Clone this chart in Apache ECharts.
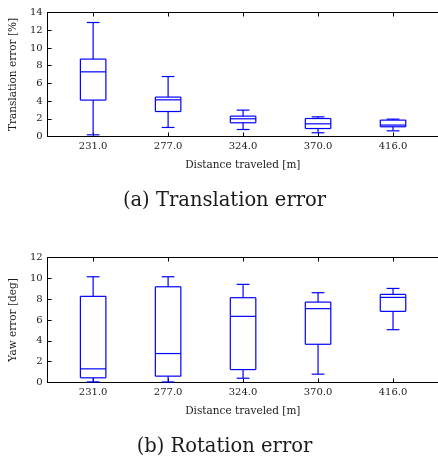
<!DOCTYPE html>
<html>
<head>
<meta charset="utf-8">
<script src="https://cdn.jsdelivr.net/npm/echarts@6/dist/echarts.min.js"></script>
<style>
html,body{margin:0;padding:0;background:#fff;}
#chart{width:438px;height:458px;}
</style>
</head>
<body>
<div id="chart"></div>
<script>
// ---- data ----
const categories = ['231.0', '277.0', '324.0', '370.0', '416.0'];
// Translation error [%]
const transLow    = [0.19, 1.02, 0.79, 0.42, 0.64];
const transQ1     = [4.11, 2.82, 1.55, 0.90, 1.10];
const transMedian = [7.30, 4.14, 2.00, 1.43, 1.29];
const transQ3     = [8.74, 4.45, 2.30, 2.03, 1.85];
const transHigh   = [12.87, 6.77, 2.98, 2.22, 1.96];
// Yaw error [deg]
const yawLow    = [0.06, 0.05, 0.41, 0.80, 5.07];
const yawQ1     = [0.45, 0.61, 1.24, 3.67, 6.83];
const yawMedian = [1.31, 2.78, 6.35, 7.09, 8.17];
const yawQ3     = [8.27, 9.19, 8.14, 7.72, 8.46];
const yawHigh   = [10.15, 10.15, 9.42, 8.62, 9.03];
const transTicks = [0, 2, 4, 6, 8, 10, 12, 14];
const yawTicks = [0, 2, 4, 6, 8, 10, 12];

function buildRows(low, q1, med, q3, high) {
  return categories.map((c, i) => [i, low[i], q1[i], med[i], q3[i], high[i]]);
}

const BLUE = '#0000ff';
const FONT = 'DejaVu Serif';
const TEXT = '#1a1a1a';
const BOX_W = 0.34; // in category units

function renderBox(params, api) {
  const x = api.value(0);
  const low = api.coord([x, api.value(1)]);
  const q1 = api.coord([x, api.value(2)]);
  const med = api.coord([x, api.value(3)]);
  const q3 = api.coord([x, api.value(4)]);
  const high = api.coord([x, api.value(5)]);
  const bw = api.size([BOX_W, 0])[0];
  const cx = low[0];
  const l = cx - bw / 2, r = cx + bw / 2;
  const cl = cx - bw / 4, cr = cx + bw / 4;
  const mk = () => ({ stroke: BLUE, lineWidth: 1.2, fill: 'none' });
  const line = (x1, yA, x2, yB) => ({ type: 'line', shape: { x1: x1, y1: yA, x2: x2, y2: yB }, style: mk() });
  return {
    type: 'group',
    children: [
      line(l, q3[1], r, q3[1]),
      line(l, q1[1], r, q1[1]),
      line(l, q3[1], l, q1[1]),
      line(r, q3[1], r, q1[1]),
      line(l, med[1], r, med[1]),
      line(cx, q3[1], cx, high[1]),
      line(cx, q1[1], cx, low[1]),
      line(cl, high[1], cr, high[1]),
      line(cl, low[1], cr, low[1])
    ]
  };
}

const X_MIN = -0.607, X_MAX = 4.6;
const GRID_LEFT = 43.5, GRID_W = 415.3;

function xAxes(gridIndex) {
  const idx = [0, 1, 2, 3, 4];
  return [
    {
      type: 'value', gridIndex: gridIndex, position: 'bottom', min: X_MIN, max: X_MAX,
      axisLine: { show: true, onZero: false, lineStyle: { color: '#000', width: 1 } },
      axisTick: { show: true, inside: true, length: 4, customValues: idx, lineStyle: { color: '#000' } },
      axisLabel: {
        show: true, customValues: idx, margin: 5,
        formatter: v => categories[Math.round(v)],
        fontFamily: FONT, fontSize: 10, color: TEXT
      },
      splitLine: { show: false },
      name: 'Distance traveled [m]', nameLocation: 'middle', nameGap: 23,
      nameTextStyle: { fontFamily: FONT, fontSize: 10.5, color: TEXT }
    },
    {
      type: 'value', gridIndex: gridIndex, position: 'top', min: X_MIN, max: X_MAX,
      axisLine: { show: true, onZero: false, lineStyle: { color: '#000', width: 1 } },
      axisTick: { show: true, inside: true, length: 4, customValues: idx, lineStyle: { color: '#000' } },
      axisLabel: { show: false },
      splitLine: { show: false }
    }
  ];
}

function yAxis(gridIndex, max, name, ticks) {
  return {
    type: 'value', gridIndex: gridIndex, position: 'left', min: 0, max: max, interval: ticks[1] - ticks[0],
    axisLine: { show: true, onZero: false, lineStyle: { color: '#000', width: 1 } },
    axisTick: { show: true, inside: true, length: 4, lineStyle: { color: '#000' } },
    axisLabel: { margin: 5, fontFamily: FONT, fontSize: 10, color: TEXT },
    splitLine: { show: false },
    name: name, nameLocation: 'middle', nameGap: 24,
    nameTextStyle: { fontFamily: FONT, fontSize: 10.5, color: TEXT }
  };
}

const chart = echarts.init(document.getElementById('chart'), null, { renderer: 'canvas' });
chart.setOption({
  animation: false,
  backgroundColor: '#fff',
  grid: [
    { left: GRID_LEFT, top: 12.5, width: GRID_W, height: 124 },
    { left: GRID_LEFT, top: 257.5, width: GRID_W, height: 125 }
  ],
  xAxis: xAxes(0).concat(xAxes(1)),
  yAxis: [
    yAxis(0, 14, 'Translation error [%]', transTicks),
    yAxis(1, 12, 'Yaw error [deg]', yawTicks)
  ],
  graphic: [
    { type: 'text', x: 224.5, y: 201, style: { text: '(a) Translation error', font: '19.5px "DejaVu Serif"', fill: TEXT, align: 'center', verticalAlign: 'middle' } },
    { type: 'text', x: 224.5, y: 447, style: { text: '(b) Rotation error', font: '19.5px "DejaVu Serif"', fill: TEXT, align: 'center', verticalAlign: 'middle' } }
  ],
  series: [
    {
      type: 'custom', xAxisIndex: 0, yAxisIndex: 0,
      itemStyle: { color: BLUE },
      data: buildRows(transLow, transQ1, transMedian, transQ3, transHigh),
      encode: { x: 0, y: [1, 2, 3, 4, 5] },
      renderItem: renderBox
    },
    {
      type: 'custom', xAxisIndex: 2, yAxisIndex: 1,
      itemStyle: { color: BLUE },
      data: buildRows(yawLow, yawQ1, yawMedian, yawQ3, yawHigh),
      encode: { x: 0, y: [1, 2, 3, 4, 5] },
      renderItem: renderBox
    }
  ]
});
</script>
</body>
</html>
